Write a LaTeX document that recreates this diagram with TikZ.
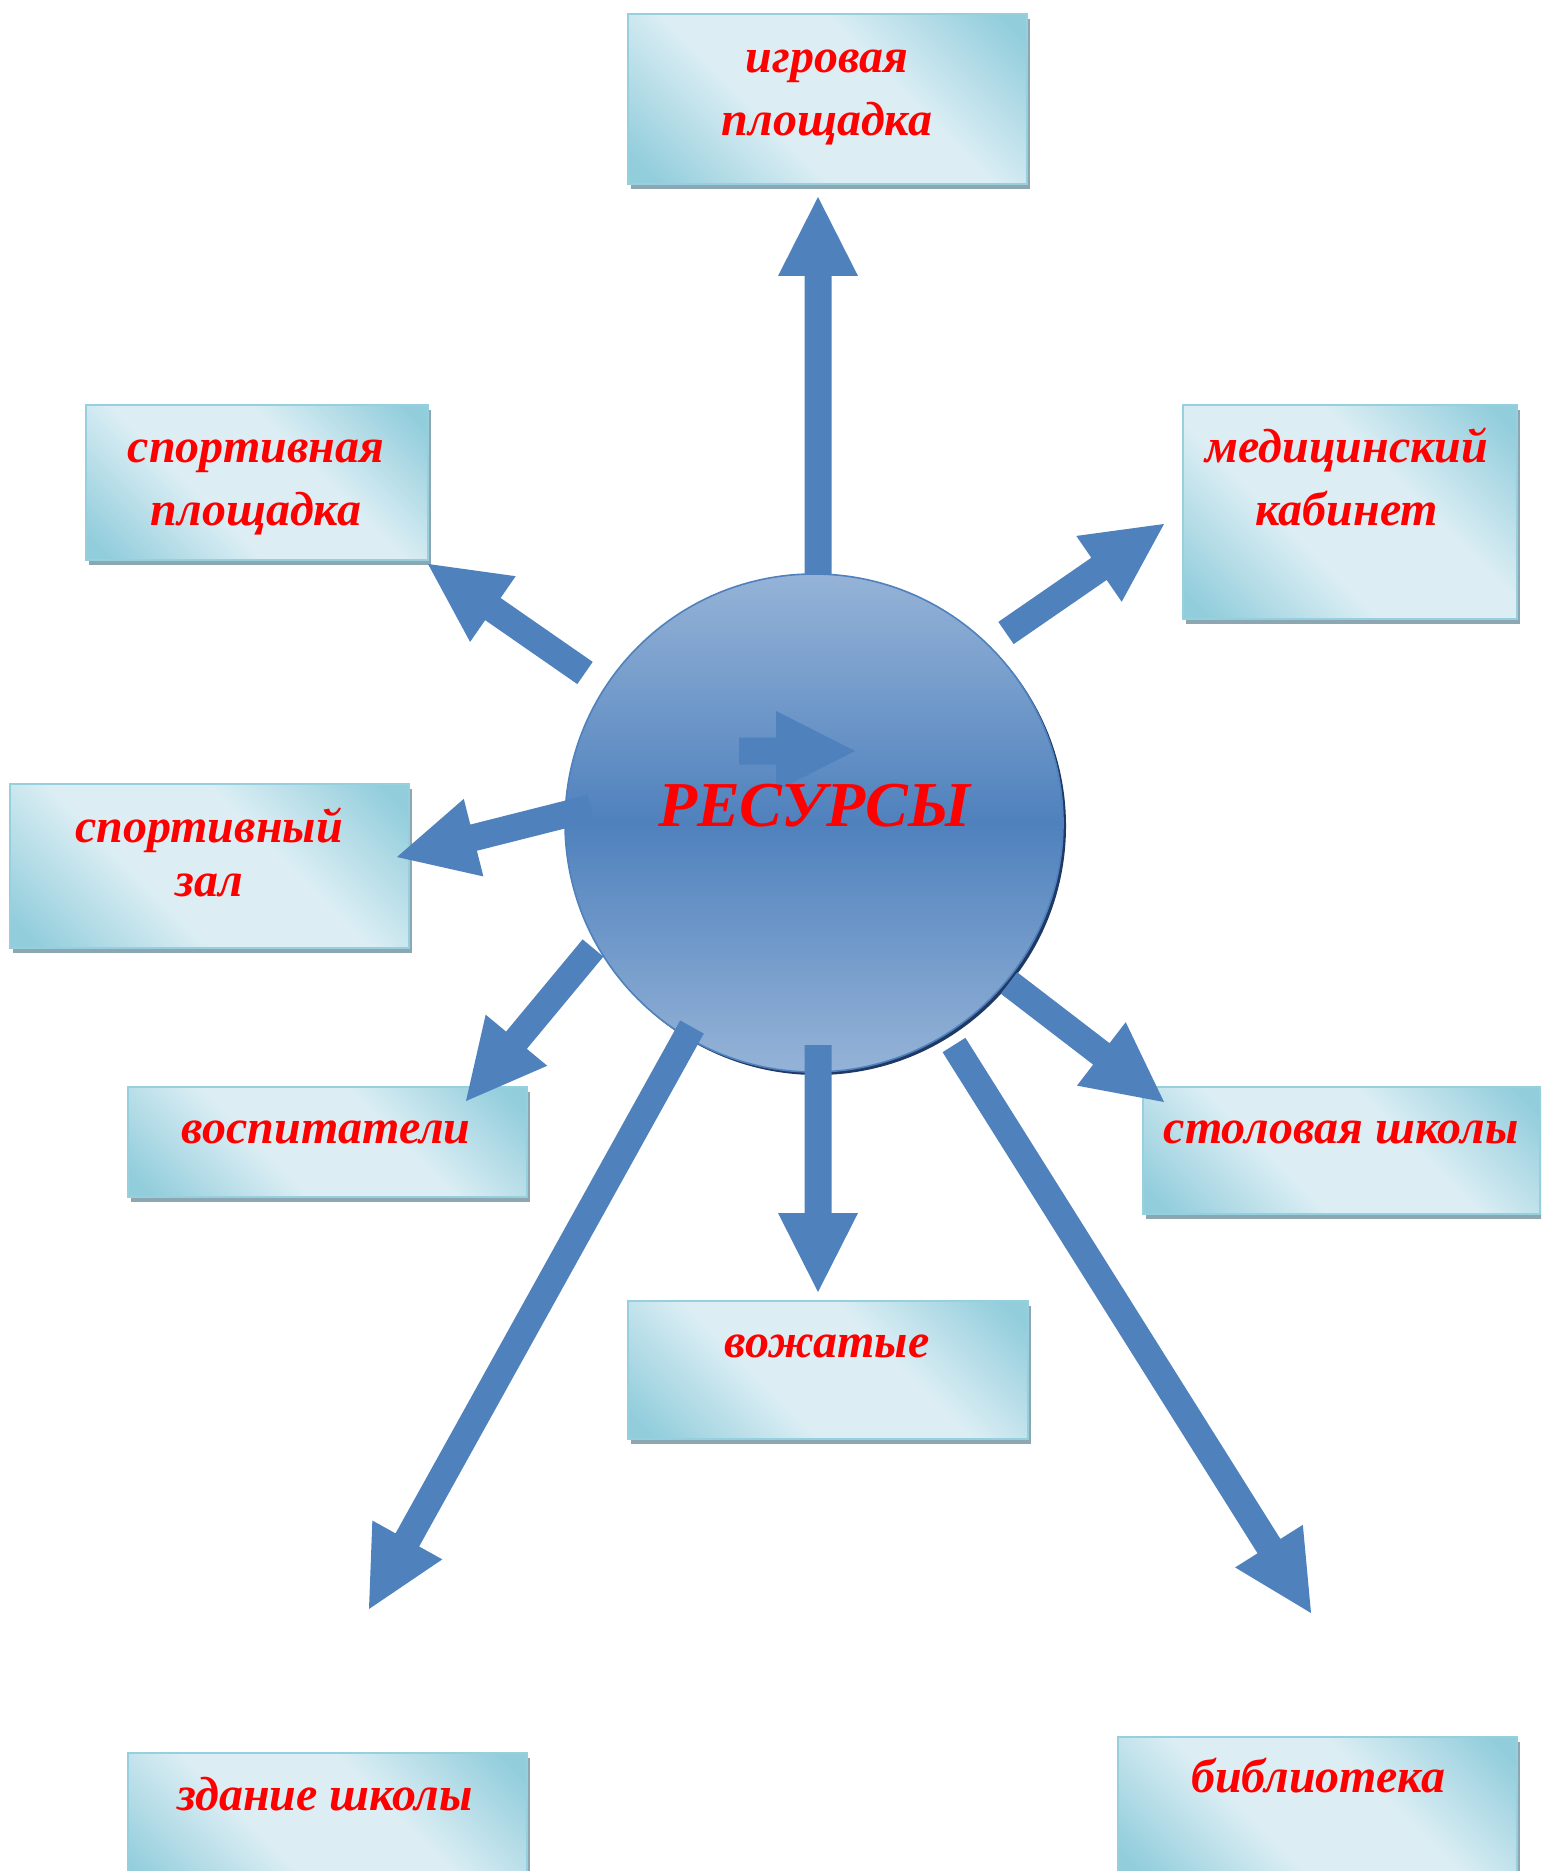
\documentclass[tikz,border=0pt]{standalone}
\usepackage{fontspec}
\setmainfont{Liberation Serif}
\usetikzlibrary{calc,shadows}
\definecolor{arrowblue}{RGB}{79,129,189}
\definecolor{circlight}{RGB}{149,179,215}
\definecolor{circshadow}{RGB}{31,56,100}
\definecolor{boxdark}{RGB}{146,205,220}
\definecolor{boxlight}{RGB}{220,238,244}
\definecolor{boxline}{RGB}{150,207,222}
\definecolor{boxshadow}{RGB}{140,166,178}
\pgfdeclareverticalshading{boxshade}{100bp}{color(0bp)=(boxdark); color(18bp)=(boxdark);
  color(40bp)=(boxlight); color(60bp)=(boxlight); color(82bp)=(boxdark); color(100bp)=(boxdark)}
\newcommand\blockarr[2]{%
  \coordinate (#1hb) at ($(#2)!39.5pt!(#1)$);
  \fill[arrowblue] ($(#1)!6.75pt!90:(#2)$) -- ($(#1hb)!6.75pt!-90:(#1)$)
    -- ($(#1hb)!20pt!-90:(#1)$) -- (#2) -- ($(#1hb)!20pt!90:(#1)$)
    -- ($(#1hb)!6.75pt!90:(#1)$) -- ($(#1)!6.75pt!-90:(#2)$) -- cycle;}
\tikzset{
  box/.style={rectangle, inner sep=0pt, draw=boxline, line width=1.2pt,
    shading=boxshade, shading angle=-45,
    drop shadow={shadow xshift=1.5pt, shadow yshift=-2.5pt, fill=boxshadow, opacity=1}},
  lbl/.style={inner sep=0pt, align=center, text=red, anchor=north, yshift=22.05pt,
    font=\fontsize{24pt}{31.5pt}\selectfont\bfseries\itshape},
  lblz/.style={inner sep=0pt, align=center, text=red, anchor=north, yshift=18.9pt,
    font=\fontsize{24pt}{27pt}\selectfont\bfseries\itshape},
  hub/.style={circle, inner sep=0pt, minimum size=249pt, draw=arrowblue, line width=0.8pt,
    top color=circlight, bottom color=circlight, middle color=arrowblue,
    drop shadow={shadow xshift=1.5pt, shadow yshift=-1.5pt, fill=circshadow, opacity=1}},
  hubtext/.style={inner sep=0pt, anchor=base, text=red, font=\fontsize{32pt}{40pt}\selectfont\bfseries\itshape}
}
\begin{document}
\begin{tikzpicture}[x=0.5pt,y=-0.5pt]
\useasboundingbox (0,0) rectangle (1541,1871);
\clip (0,0) rectangle (1541,1871);
% boxes
\node[box, minimum width=199.5pt, minimum height=85pt]  (b1) at (827.5,99) {};
\node[box, minimum width=171pt,   minimum height=77.5pt] (b2) at (257,482.5) {};
\node[box, minimum width=167pt,   minimum height=107pt] (b3) at (1350,512) {};
\node[box, minimum width=199.5pt, minimum height=82pt]  (b4) at (209.5,866) {};
\node[box, minimum width=199.5pt, minimum height=55pt]  (b5) at (327.5,1142) {};
\node[box, minimum width=198.5pt, minimum height=63.5pt] (b6) at (1341.5,1150.5) {};
\node[box, minimum width=200pt,   minimum height=69pt]  (b7) at (828,1370) {};
\node[box, minimum width=199.5pt, minimum height=70pt]  (b8) at (327.5,1823) {};
\node[box, minimum width=199.5pt, minimum height=70pt]  (b9) at (1317.5,1807) {};
% labels
\node[lbl]  (t1) at (827,72)    {\strut игровая\\площадка};
\node[lbl]  (t2) at (256,462)   {\strut спортивная\\площадка};
\node[lbl]  (t3) at (1347,462)  {\strut медицинский\\кабинет};
\node[lblz] (t4) at (209,842)   {\strut спортивный\\зал};
\node[lbl]  (t5) at (326,1143)  {\strut воспитатели};
\node[lbl]  (t6) at (1341,1143) {\strut столовая школы};
\node[lbl]  (t7) at (827,1357)  {\strut вожатые};
\node[lbl]  (t8) at (325,1810)  {\strut здание школы};
\node[lbl]  (t9) at (1318,1792) {\strut библиотека};
% hub
\node[hub] (c) at (814,823) {};
% arrow ends
\coordinate (a1s) at (818,574);  \coordinate (a1t) at (818,197);
\coordinate (a2s) at (585,673);  \coordinate (a2t) at (428,564);
\coordinate (a3s) at (1006,633); \coordinate (a3t) at (1164,524);
\coordinate (a4s) at (591,808);  \coordinate (a4t) at (397,857);
\coordinate (a5s) at (593,948);  \coordinate (a5t) at (466,1101);
\coordinate (a6s) at (1009,983); \coordinate (a6t) at (1164,1102);
\coordinate (a7s) at (818,1045); \coordinate (a7t) at (818,1292);
\coordinate (a8s) at (692,1027); \coordinate (a8t) at (369,1609);
\coordinate (a9s) at (954,1045); \coordinate (a9t) at (1311,1613);
\coordinate (a0s) at (739,751);  \coordinate (a0t) at (855,751);
\blockarr{a1s}{a1t}
\blockarr{a2s}{a2t}
\blockarr{a3s}{a3t}
\blockarr{a4s}{a4t}
\blockarr{a5s}{a5t}
\blockarr{a6s}{a6t}
\blockarr{a7s}{a7t}
\blockarr{a8s}{a8t}
\blockarr{a9s}{a9t}
\blockarr{a0s}{a0t}
\node[hubtext] (ct) at (814,826) {РЕСУРСЫ};
\end{tikzpicture}
\end{document}
